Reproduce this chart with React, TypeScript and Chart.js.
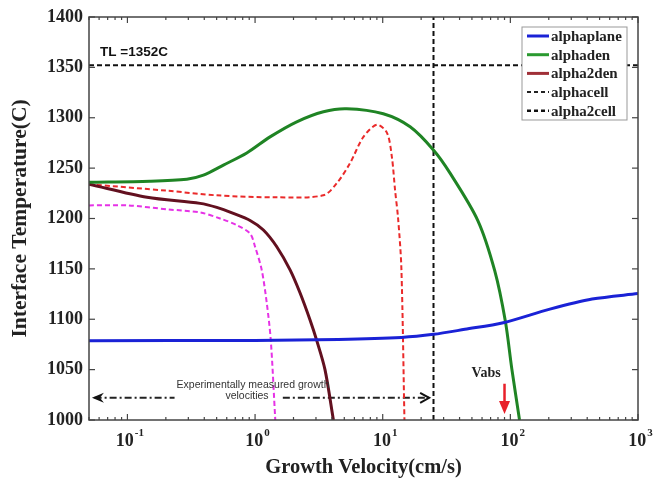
import React, { useEffect, useRef } from "react";
import { Chart, registerables } from "chart.js";

Chart.register(...registerables);

// ---- axis ranges / ticks ----
const X_MIN = 0.05;
const X_MAX = 1000;
const Y_MIN = 1000;
const Y_MAX = 1400;
const Y_STEP = 50;
const X_MAJOR_EXP = [-1, 0, 1, 2, 3];

// ---- series (velocity cm/s, temperature C) ----
const PLANE_V = [0.05, 1, 4.5, 14, 25, 44, 88, 204, 437, 1000];
const PLANE_T = [1078.7, 1079, 1080, 1082, 1085, 1090, 1096.5, 1110, 1120, 1125.5];

const DEN_V = [0.05, 0.15, 0.292, 0.394, 0.565, 0.861, 1.31, 2.12, 3.43, 5.22, 10.1, 16.4, 24.96, 33.7, 55.6, 75.5, 91.4, 102.6, 118];
const DEN_T = [1236, 1237, 1239, 1243, 1253, 1265, 1281, 1296, 1306, 1309, 1304, 1291, 1268, 1245, 1198, 1148, 1098, 1051, 1000];

const DEN2_V = [0.05, 0.1425, 0.371, 0.501, 0.676, 0.914, 1.162, 1.479, 1.88, 2.253, 2.7, 3.04, 3.53, 4.11];
const DEN2_T = [1234, 1221, 1215, 1211, 1205, 1198, 1188.6, 1172, 1149, 1126, 1099, 1079, 1050, 1000];

const CELL_V = [0.05, 0.209, 0.501, 1.479, 3.43, 4.37, 5.55, 7.06, 9.0, 10.8, 11.8, 12.5, 13.2, 14.0, 14.8];
const CELL_T = [1234, 1227.5, 1223, 1221, 1223, 1235, 1255, 1281, 1293, 1285, 1261, 1228, 1200, 1151, 1000];

const CELL2_V = [0.05, 0.1, 0.209, 0.371, 0.532, 0.718, 0.914, 1.0, 1.127, 1.235, 1.328, 1.44];
const CELL2_T = [1213, 1213, 1209, 1206, 1200, 1193.5, 1185, 1172, 1149, 1116, 1079, 1000];

// ---- reference lines / annotations ----
const TL_T = 1352;
const TL_LABEL = "TL =1352C";
const TL_LABEL_POS = [0.061, 1361.3];
const VLINE_V = 25;
const EXP_Y = 1022;
const EXP_LEFT = [0.0527, 0.234];
const EXP_RIGHT = [1.65, 23.1];
const EXP_TEXT = ["Experimentally measured growth", "velocities"];
const EXP_TEXT_POS = [[0.964, 1034.7], [0.865, 1023.3]];
const VABS_LABEL = "Vabs";
const VABS_LABEL_POS = [64.6, 1042.7];
const VABS_V = 90;
const VABS_T = [1036, 1006];

const LABELS = ["alphaplane", "alphaden", "alpha2den", "alphacell", "alpha2cell"];

const SERIF = "'Liberation Serif', 'Times New Roman', serif";
const SANS = "'Liberation Sans', Arial, sans-serif";

const pts = (xs: number[], ys: number[]) => xs.map((x, i) => ({ x, y: ys[i] }));

const decor = {
  id: "decor",
  afterDatasetsDraw(chart: any) {
    const { ctx, chartArea: a, scales } = chart;
    const x = scales.x;
    const y = scales.y;
    const px = (v: number) => x.getPixelForValue(v);
    const py = (v: number) => y.getPixelForValue(v);
    const line = (x1: number, y1: number, x2: number, y2: number) => {
      ctx.beginPath();
      ctx.moveTo(x1, y1);
      ctx.lineTo(x2, y2);
      ctx.stroke();
    };
    ctx.save();

    // experimental arrows heads
    ctx.fillStyle = "#111";
    ctx.strokeStyle = "#111";
    ctx.lineWidth = 2;
    ctx.setLineDash([]);
    {
      const tx = px(EXP_LEFT[0]);
      const ty = py(EXP_Y);
      ctx.beginPath();
      ctx.moveTo(tx, ty);
      ctx.lineTo(tx + 12, ty - 5);
      ctx.lineTo(tx + 8, ty);
      ctx.lineTo(tx + 12, ty + 5);
      ctx.closePath();
      ctx.fill();
      const rx = px(EXP_RIGHT[1]);
      ctx.beginPath();
      ctx.moveTo(rx - 9, ty - 5);
      ctx.lineTo(rx, ty);
      ctx.lineTo(rx - 9, ty + 5);
      ctx.stroke();
    }

    // experimental text
    ctx.font = `10.5px ${SANS}`;
    ctx.fillStyle = "#333";
    ctx.textAlign = "center";
    ctx.textBaseline = "middle";
    EXP_TEXT.forEach((t, i) => {
      ctx.fillText(t, px(EXP_TEXT_POS[i][0]), py(EXP_TEXT_POS[i][1]));
    });

    // TL label
    ctx.font = `bold 13.5px ${SANS}`;
    ctx.fillStyle = "#111";
    ctx.textAlign = "left";
    ctx.textBaseline = "alphabetic";
    ctx.fillText(TL_LABEL, px(TL_LABEL_POS[0]), py(TL_LABEL_POS[1]));

    // Vabs label + arrow
    ctx.font = `bold 14px ${SERIF}`;
    ctx.fillStyle = "#222";
    ctx.textAlign = "center";
    ctx.fillText(VABS_LABEL, px(VABS_LABEL_POS[0]), py(VABS_LABEL_POS[1]));
    {
      const ax = px(VABS_V);
      const y1 = py(VABS_T[0]);
      const y2 = py(VABS_T[1]);
      ctx.strokeStyle = "#e8202a";
      ctx.fillStyle = "#e8202a";
      ctx.lineWidth = 2.5;
      line(ax, y1, ax, y2 - 10);
      ctx.beginPath();
      ctx.moveTo(ax, y2);
      ctx.lineTo(ax - 5.5, y2 - 13);
      ctx.lineTo(ax + 5.5, y2 - 13);
      ctx.closePath();
      ctx.fill();
    }

    // axis box
    ctx.strokeStyle = "#444";
    ctx.lineWidth = 1.5;
    ctx.strokeRect(a.left, a.top, a.right - a.left, a.bottom - a.top);

    // y ticks (inward both sides)
    ctx.lineWidth = 1.2;
    for (let v = Y_MIN; v <= Y_MAX; v += Y_STEP) {
      const yy = py(v);
      line(a.left, yy, a.left + 6, yy);
      line(a.right, yy, a.right - 6, yy);
    }
    // x ticks (log, inward top and bottom)
    for (let d = -2; d <= 3; d++) {
      for (let m = 1; m <= 9; m++) {
        const v = m * Math.pow(10, d);
        if (v < X_MIN * 0.999 || v > X_MAX * 1.001) continue;
        const xx = px(v);
        const len = m === 1 ? 6 : 3;
        line(xx, a.bottom, xx, a.bottom - len);
        line(xx, a.top, xx, a.top + len);
      }
    }

    // x tick labels with superscripts
    ctx.fillStyle = "#222";
    ctx.textAlign = "left";
    ctx.textBaseline = "alphabetic";
    X_MAJOR_EXP.forEach((e) => {
      const base = "10";
      const sup = String(e);
      ctx.font = `bold 18px ${SERIF}`;
      const wb = ctx.measureText(base).width;
      ctx.font = `bold 11px ${SERIF}`;
      const ws = ctx.measureText(sup).width;
      const cx = px(Math.pow(10, e));
      const sx = cx - (wb + ws) / 2 + 2;
      ctx.font = `bold 18px ${SERIF}`;
      ctx.fillText(base, sx, a.bottom + 26);
      ctx.font = `bold 11px ${SERIF}`;
      ctx.fillText(sup, sx + wb + 1, a.bottom + 16);
    });

    // legend box
    const lw = 105;
    const lh = 93;
    const lx = a.right - 11 - lw;
    const ly = a.top + 10;
    ctx.fillStyle = "#fff";
    ctx.fillRect(lx, ly, lw, lh);
    ctx.strokeStyle = "#999";
    ctx.lineWidth = 1;
    ctx.strokeRect(lx, ly, lw, lh);
    const ds = chart.data.datasets.filter((d: any) => LABELS.includes(d.label));
    ds.forEach((d: any, i: number) => {
      const yy = ly + 9 + i * 18.7;
      ctx.strokeStyle = d.legendColor;
      ctx.lineWidth = d.legendWidth;
      ctx.setLineDash(d.legendDash);
      line(lx + 5, yy, lx + 27, yy);
      ctx.setLineDash([]);
      ctx.fillStyle = "#222";
      ctx.font = `bold 15px ${SERIF}`;
      ctx.textAlign = "left";
      ctx.textBaseline = "middle";
      ctx.fillText(d.label, lx + 29, yy + 1);
    });

    ctx.restore();
  },
};

export default function App() {
  const ref = useRef<HTMLCanvasElement>(null);
  useEffect(() => {
    const common = { pointRadius: 0, fill: false, tension: 0.3 };
    const chart = new Chart(ref.current!, {
      type: "line",
      data: {
        datasets: [
          {
            label: "alphaplane", data: pts(PLANE_V, PLANE_T), borderColor: "#1a22d6", borderWidth: 3, ...common,
            legendColor: "#1a22d6", legendWidth: 3, legendDash: [],
          } as any,
          {
            label: "alphaden", data: pts(DEN_V, DEN_T), borderColor: "#1f8424", borderWidth: 3, ...common,
            legendColor: "#2a9a30", legendWidth: 3, legendDash: [],
          } as any,
          {
            label: "alpha2den", data: pts(DEN2_V, DEN2_T), borderColor: "#62101f", borderWidth: 3, ...common,
            legendColor: "#a03038", legendWidth: 3, legendDash: [],
          } as any,
          {
            label: "alphacell", data: pts(CELL_V, CELL_T), borderColor: "#ea2a2a", borderWidth: 2, borderDash: [5, 3], ...common,
            legendColor: "#222", legendWidth: 2, legendDash: [4, 3],
          } as any,
          {
            label: "alpha2cell", data: pts(CELL2_V, CELL2_T), borderColor: "#e632e6", borderWidth: 2, borderDash: [5, 3], ...common,
            legendColor: "#111", legendWidth: 2.5, legendDash: [4, 3],
          } as any,
          {
            label: "TL", data: [{ x: X_MIN, y: TL_T }, { x: X_MAX, y: TL_T }], borderColor: "#111", borderWidth: 2,
            borderDash: [5, 3], pointRadius: 0, tension: 0,
          },
          {
            label: "Vlim", data: [{ x: VLINE_V, y: Y_MIN }, { x: VLINE_V, y: Y_MAX }], borderColor: "#111", borderWidth: 2,
            borderDash: [5, 3], pointRadius: 0, tension: 0,
          },
          {
            label: "exp", data: [
              { x: EXP_LEFT[0] * 1.05, y: EXP_Y }, { x: EXP_LEFT[1], y: EXP_Y },
              { x: 0.6, y: null as any },
              { x: EXP_RIGHT[0], y: EXP_Y }, { x: EXP_RIGHT[1], y: EXP_Y },
            ],
            borderColor: "#222", borderWidth: 2, borderDash: [7, 3, 2, 3], pointRadius: 0, tension: 0, spanGaps: false,
          },
        ],
      },
      options: {
        responsive: false,
        animation: false,
        parsing: false as any,
        layout: { padding: { top: 17, right: 25, left: 0, bottom: 0 } },
        plugins: { legend: { display: false }, tooltip: { enabled: false } },
        scales: {
          x: {
            type: "logarithmic",
            min: X_MIN,
            max: X_MAX,
            grid: { display: false, drawTicks: false },
            border: { display: false },
            ticks: { display: false },
            title: {
              display: true, text: "Growth Velocity(cm/s)", color: "#222",
              font: { family: SERIF, size: 20.5, weight: "bold" }, padding: { top: 0, bottom: 0 },
            },
            afterFit: (s: any) => { s.height = 60; },
          },
          y: {
            type: "linear",
            min: Y_MIN,
            max: Y_MAX,
            grid: { display: false, drawTicks: false },
            border: { display: false },
            ticks: {
              stepSize: Y_STEP, padding: 6, color: "#222", font: { family: SERIF, size: 18, weight: "bold" },
              callback: (v: any) => String(v),
            },
            title: {
              display: true, text: "Interface Temperature(C)", color: "#222",
              font: { family: SERIF, size: 21.5, weight: "bold" }, padding: { top: 8, bottom: 0 },
            },
            afterFit: (s: any) => { s.width = 89; },
          },
        },
      },
      plugins: [decor],
    });
    return () => chart.destroy();
  }, []);
  return (
    <div style={{ position: "absolute", left: 0, top: 0, width: 663, height: 480, background: "#fff" }}>
      <canvas ref={ref} width={663} height={480} style={{ display: "block" }} />
    </div>
  );
}
